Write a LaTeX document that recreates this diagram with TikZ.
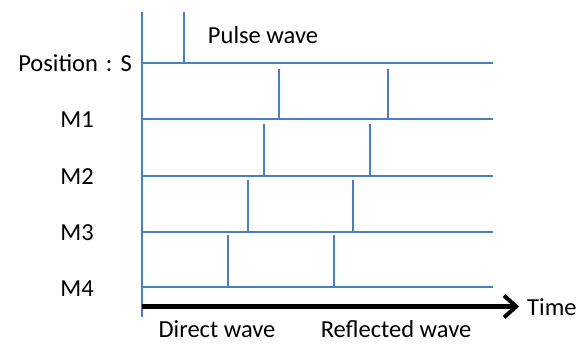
\documentclass[tikz,border=0pt]{standalone}
\usepackage{fontspec}
\setmainfont{Carlito}
\usetikzlibrary{arrows.meta}
\definecolor{wblue}{HTML}{4A7EC2}
\tikzset{
  lbl/.style={font=\fontsize{24.5}{28}\selectfont, inner sep=0pt, text=black},
  trace/.style={draw=wblue, line width=2pt},
  pulse/.style={draw=wblue, line width=1.8pt},
  timeaxis/.style={draw=black, line width=4.5pt, -{Straight Barb[length=12pt,width=22pt,line width=4pt]}}
}
\begin{document}
\begin{tikzpicture}[x=1pt,y=-1pt]
\useasboundingbox (0,0) rectangle (577,343);
% axis
\coordinate (top) at (142,12);
\coordinate (bot) at (142,317);
\draw[trace] (top) -- (bot);
% trace lines
\foreach \n/\y in {S/63,M1/119,M2/176,M3/232,M4/287}{
  \coordinate (\n l) at (142,\y);
  \coordinate (\n r) at (493,\y);
  \draw[trace] (\n l) -- (\n r);
}
% pulse
\coordinate (p0) at (184,12);
\draw[pulse] (p0) -- (184,63);
% direct/reflected pulses
\foreach \n/\y/\a/\b/\h in {M1/119/279/388/50, M2/176/264/370/52, M3/232/248/353/52, M4/287/228/334/52}{
  \draw[pulse] (\a,\y) -- ++(0,-\h);
  \draw[pulse] (\b,\y) -- ++(0,-\h);
}
% time axis
\coordinate (t0) at (142,306.5);
\coordinate (t1) at (519,306.5);
\draw[timeaxis] (t0) -- (t1);
% labels
\node[lbl, anchor=west] (time) at (527,307) {Time};
\node[lbl] (direct) at (217,329) {Direct wave};
\node[lbl] (refl) at (396,329) {Reflected wave};
\node[lbl] (pw) at (263,35) {Pulse wave};
\node[lbl, anchor=east] (ps) at (132,63) {Position\hspace{8pt}:\hspace{8pt}S};
\node[lbl] (m1) at (77,120) {M1};
\node[lbl] (m2) at (77,177) {M2};
\node[lbl] (m3) at (77,233) {M3};
\node[lbl] (m4) at (77,289) {M4};
\end{tikzpicture}
\end{document}
